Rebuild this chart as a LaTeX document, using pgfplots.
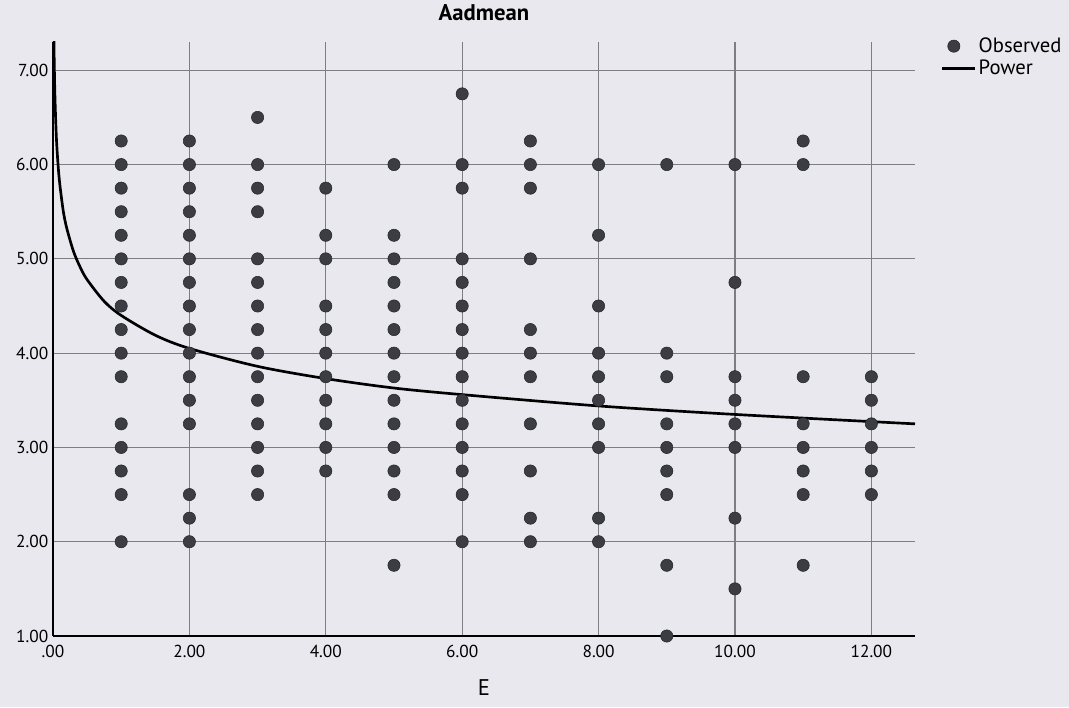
\documentclass[border=0pt]{standalone}
\usepackage{fontspec}
\setmainfont{PT Sans}
\usepackage{pgfplots}
\pgfplotsset{compat=1.18}
\definecolor{bg}{RGB}{232,232,238}
\definecolor{dot}{RGB}{60,60,68}
\definecolor{gridc}{RGB}{125,125,130}
\begin{document}
\begin{tikzpicture}
\fill[bg] (-39.75pt,-53.25pt) rectangle (762pt,477pt);
\begin{axis}[
  scale only axis, width=646.5pt, height=445.5pt,
  xmin=0, xmax=12.64, ymin=1, ymax=7.3,
  axis x line*=bottom, axis y line*=left,
  axis line style={black, line width=2pt},
  xtick={0,2,4,6,8,10,12},
  xticklabels={.00,2.00,4.00,6.00,8.00,10.00,12.00},
  ytick={1,2,3,4,5,6,7},
  yticklabels={1.00,2.00,3.00,4.00,5.00,6.00,7.00},
  major tick length=0pt,
  grid=major, major grid style={gridc, line width=0.8pt},
  tick label style={font=\fontsize{13}{15}\selectfont},
  xticklabel style={yshift=-3pt},
  /pgf/number format/assume math mode=true,
  title={\textbf{Aadmean}}, title style={font=\fontsize{17}{19}\selectfont, yshift=6pt},
  xlabel={E}, xlabel style={font=\fontsize{17}{19}\selectfont, yshift=-10pt},
  legend style={at={(1.03,1.012)}, anchor=north west, draw=none, fill=none,
    font=\fontsize{15.5}{16}\selectfont, row sep=0pt, inner sep=0pt},
  legend cell align=left,
]
\addplot[only marks, mark=*, mark size=4.6pt, mark options={fill=dot, draw=black!85, line width=0.4pt}] coordinates {
(1,6.25)(1,6)(1,5.75)(1,5.5)(1,5.25)(1,5)(1,4.75)(1,4.5)(1,4.25)(1,4)(1,3.75)(1,3.25)(1,3)(1,2.75)(1,2.5)(1,2)
(2,6.25)(2,6)(2,5.75)(2,5.5)(2,5.25)(2,5)(2,4.75)(2,4.5)(2,4.25)(2,4)(2,3.75)(2,3.5)(2,3.25)(2,2.5)(2,2.25)(2,2)
(3,6.5)(3,6)(3,5.75)(3,5.5)(3,5)(3,4.75)(3,4.5)(3,4.25)(3,4)(3,3.75)(3,3.5)(3,3.25)(3,3)(3,2.75)(3,2.5)
(4,5.75)(4,5.25)(4,5)(4,4.5)(4,4.25)(4,4)(4,3.75)(4,3.5)(4,3.25)(4,3)(4,2.75)
(5,6)(5,5.25)(5,5)(5,4.75)(5,4.5)(5,4.25)(5,4)(5,3.75)(5,3.5)(5,3.25)(5,3)(5,2.75)(5,2.5)(5,1.75)
(6,6.75)(6,6)(6,5.75)(6,5)(6,4.75)(6,4.5)(6,4.25)(6,4)(6,3.75)(6,3.5)(6,3.25)(6,3)(6,2.75)(6,2.5)(6,2)
(7,6.25)(7,6)(7,5.75)(7,5)(7,4.25)(7,4)(7,3.75)(7,3.25)(7,2.75)(7,2.25)(7,2)
(8,6)(8,5.25)(8,4.5)(8,4)(8,3.75)(8,3.5)(8,3.25)(8,3)(8,2.25)(8,2)
(9,6)(9,4)(9,3.75)(9,3.25)(9,3)(9,2.75)(9,2.5)(9,1.75)(9,1)
(10,6)(10,4.75)(10,3.75)(10,3.5)(10,3.25)(10,3)(10,2.25)(10,1.5)
(11,6.25)(11,6)(11,3.75)(11,3.25)(11,3)(11,2.75)(11,2.5)(11,1.75)
(12,3.75)(12,3.5)(12,3.25)(12,3)(12,2.75)(12,2.5)
};
\addlegendentry{Observed}
\addplot[black, line width=2pt, smooth, no marks,
  legend image code/.code={\draw[black, line width=2pt] (0cm,0cm) -- (0.85cm,0cm);}] coordinates {
(0.01,7.61)(0.015,7.25)(0.02,7.01)(0.03,6.68)(0.05,6.28)(0.075,5.99)(0.1,5.79)(0.15,5.51)(0.2,5.33)
(0.3,5.08)(0.4,4.91)(0.5,4.78)(0.75,4.55)(1,4.40)(1.5,4.19)(2,4.05)(3,3.86)(4,3.73)(5,3.63)
(6,3.56)(8,3.44)(10,3.35)(12.64,3.25)
};
\addlegendentry{Power}
\end{axis}
\end{tikzpicture}
\end{document}
